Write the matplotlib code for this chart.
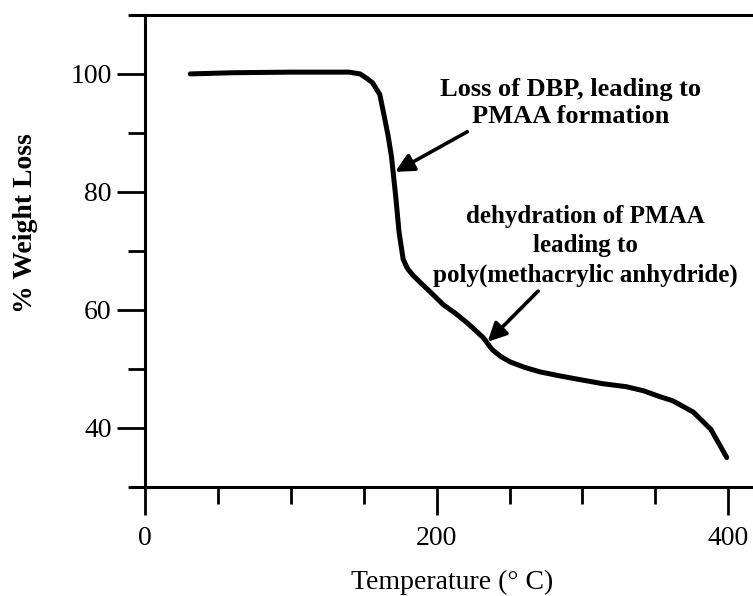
import matplotlib.pyplot as plt
from matplotlib.ticker import MultipleLocator

# TGA curve
temp = [31, 60, 100, 130, 140, 147.5, 152.3, 156, 161, 164.7, 166.7, 169,
        172, 174.2, 177, 180, 184, 189, 195, 204.5, 213, 221, 232, 238, 244,
        250.4, 260, 271, 285, 296, 314, 330, 342, 352, 362, 376, 388, 399]
weight = [100.0, 100.2, 100.3, 100.3, 100.3, 100.0, 99.2, 98.5, 96.5, 92.0,
          89.5, 86.0, 79.0, 73.2, 68.6, 67.0, 65.8, 64.6, 63.2, 60.9, 59.4,
          57.8, 55.3, 53.3, 52.1, 51.2, 50.3, 49.5, 48.8, 48.3, 47.5, 47.0,
          46.3, 45.4, 44.6, 42.7, 39.8, 35.0]

x_major = [0, 200, 400]
y_major = [40, 60, 80, 100]

plt.rcParams['font.family'] = ['Liberation Serif', 'DejaVu Serif']

fig = plt.figure(figsize=(7.53, 5.96), dpi=100)
ax = fig.add_axes([0.1753, 0.1829, 0.8247, 0.7921])

ax.plot(temp, weight, color='black', lw=3.6, solid_capstyle='round',
        solid_joinstyle='round')

ax.set_xlim(-9, 417)
ax.set_ylim(30, 110)

ax.spines['right'].set_visible(False)
ax.spines['left'].set_position(('data', 0))
for s in ['left', 'bottom', 'top']:
    ax.spines[s].set_linewidth(2.2)

ax.set_xticks(x_major)
ax.xaxis.set_minor_locator(MultipleLocator(50))
ax.set_yticks(y_major)
ax.yaxis.set_minor_locator(MultipleLocator(10))
ax.tick_params(which='major', length=20, width=2, labelsize=20)
ax.tick_params(which='minor', length=12, width=2)
ax.tick_params(axis='x', which='major', pad=8)
ax.tick_params(axis='y', which='major', pad=4)

ax.set_xlabel('Temperature (° C)', fontsize=20)
ax.xaxis.set_label_coords(0.515, -0.175)
ax.set_ylabel('% Weight Loss', fontsize=20, fontweight='bold')
ax.yaxis.set_label_coords(-0.152, 0.559)

arrow = dict(arrowstyle='-|>', lw=2.6, color='black', mutation_scale=28,
             shrinkA=0, shrinkB=0)
ax.text(291.6, 95.1, 'Loss of DBP, leading to\nPMAA formation',
        ha='center', va='center', fontsize=19, fontweight='bold',
        linespacing=1.25)
ax.annotate('', xy=(171.5, 83.4), xytext=(221, 90.2), arrowprops=arrow)
ax.text(301.9, 70.9, 'dehydration of PMAA\nleading to\npoly(methacrylic anhydride)',
        ha='center', va='center', fontsize=18, fontweight='bold',
        linespacing=1.35)
ax.annotate('', xy=(235, 54.6), xytext=(269.6, 63.2), arrowprops=arrow)

fig.savefig('out.png', dpi=100)
